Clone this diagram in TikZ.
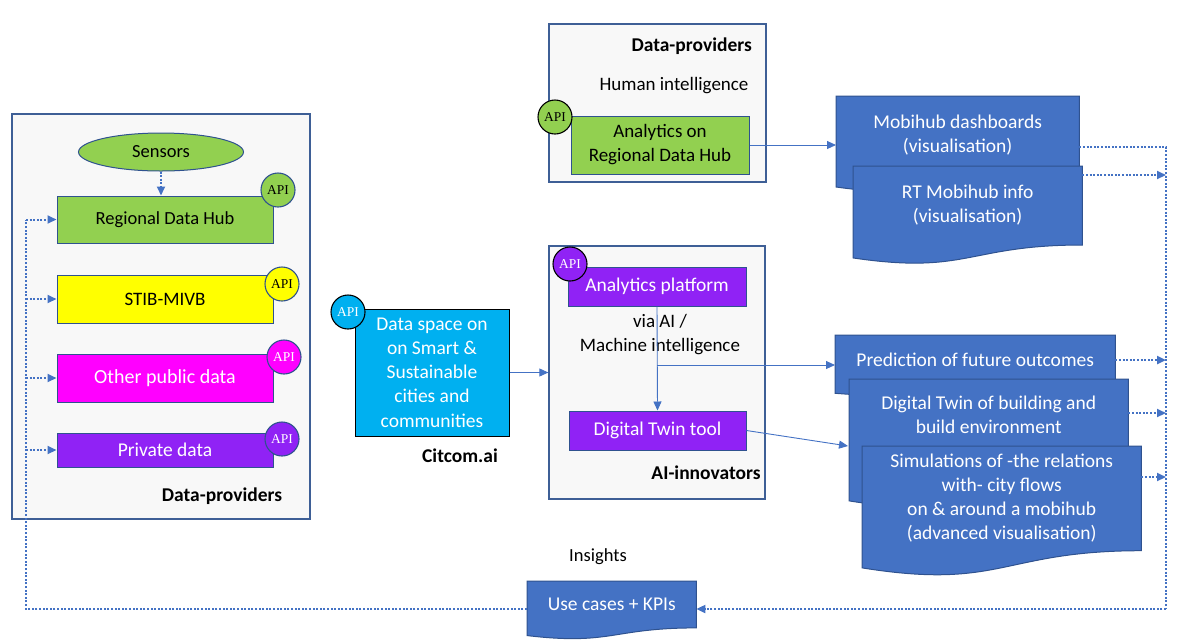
\documentclass[tikz,border=0pt]{standalone}
\usepackage{fontspec}
\setmainfont{Carlito}
\newfontfamily\apifont{Liberation Serif}
\usetikzlibrary{shapes.geometric,arrows.meta,calc}
\pgfdeclarelayer{background}
\pgfsetlayers{background,main}
\definecolor{cgreen}{HTML}{92D050}
\definecolor{cyellow}{HTML}{FFFF00}
\definecolor{cmag}{HTML}{FF00FF}
\definecolor{cpurple}{HTML}{9022F5}
\definecolor{ccyan}{HTML}{00B0F0}
\definecolor{docblue}{HTML}{4472C4}
\definecolor{docborder}{HTML}{2F528F}
\definecolor{frame}{HTML}{3E5F96}
\definecolor{panel}{HTML}{F8F8F8}
\newcommand\docpath[2]{%
  \path[docshape] (#1.north west) -- (#1.north east) -- (#1.south east)
    .. controls (#1.south) and ($(#1.south)+(0,0.305*#2)$) ..
    ($(#1.south west)+(0,0.132*#2)$) -- cycle;}
\tikzset{
  container/.style={draw=frame, line width=1.3pt, fill=panel, rectangle, inner sep=0pt},
  srcbox/.style={draw=docborder, line width=1pt, rectangle, inner sep=0pt, font=\fontsize{19}{23}\selectfont, align=center},
  apicirc/.style={circle, draw=docborder, line width=1.1pt, minimum size=34pt, inner sep=0pt, font=\apifont\fontsize{13.5}{13.5}\selectfont},
  docnode/.style={rectangle, inner sep=0pt, anchor=north west, text=white, align=center, font=\fontsize{19.5}{24}\selectfont},
  docshape/.style={fill=docblue, draw=docborder, line width=1pt},
  plain/.style={inner sep=0pt, align=center, font=\fontsize{19}{24}\selectfont},
  boldlbl/.style={inner sep=0pt, font=\bfseries\fontsize{19.5}{24}\selectfont},
  conn/.style={draw=docblue, line width=0.9pt, -{Triangle[length=9pt,width=8pt]}},
  dotline/.style={draw=docblue, line width=2pt, dash pattern=on 2pt off 1.6pt},
  dotarrow/.style={dotline, -{Triangle[length=9pt,width=8pt]}},
}
\begin{document}
\begin{tikzpicture}[x=1pt,y=-1pt]
\useasboundingbox (0,0) rectangle (1185,641);

% ---------- containers ----------
\node[container, minimum width=298pt, minimum height=405pt] (leftbox) at (161,316.5) {};
\node[container, minimum width=217pt, minimum height=158pt] (topbox) at (657.5,103) {};
\node[container, minimum width=216pt, minimum height=253pt] (aibox) at (657,372.5) {};

% ---------- left data providers ----------
\node[ellipse, draw=docborder, line width=1pt, fill=cgreen, minimum width=165pt, minimum height=38pt, inner sep=0pt, font=\fontsize{18.5}{22}\selectfont] (sensors) at (161,152) {Sensors};
\node[srcbox, fill=cgreen, minimum width=216pt, minimum height=47pt, font=\fontsize{18.5}{22}\selectfont] (rdh) at (165,219.5) {Regional Data Hub};
\node[srcbox, fill=cyellow, minimum width=216pt, minimum height=48pt] (stib) at (165,299) {STIB-MIVB};
\node[srcbox, fill=cmag, text=white, minimum width=216pt, minimum height=48pt, font=\fontsize{20}{24}\selectfont] (other) at (165,378) {Other public data};
\node[srcbox, fill=cpurple, text=white, minimum width=216pt, minimum height=34pt, font=\fontsize{19.5}{24}\selectfont] (priv) at (165,450) {Private data};
\node[apicirc, fill=cgreen] (rdhapi) at (278,190) {API};
\node[apicirc, fill=cyellow] (stibapi) at (282,284) {API};
\node[apicirc, fill=cmag, text=white] (otherapi) at (284,357) {API};
\node[apicirc, fill=cpurple, text=white] (privapi) at (282,439) {API};
\node[boldlbl] (dpleft) at (222,496) {Data-providers};

% ---------- Citcom ----------
\node[srcbox, draw=black, fill=ccyan, text=white, minimum width=154pt, minimum height=127pt, font=\fontsize{19.5}{24.2}\selectfont] (citcom) at (432,372.5) {Data space on\\on Smart \&\\Sustainable\\cities and\\communities};
\node[apicirc, draw=black, fill=ccyan, text=white] (citapi) at (348,312) {API};
\node[boldlbl] (citlbl) at (460,456) {Citcom.ai};

% ---------- top box ----------
\node[boldlbl, anchor=east] (dptop) at (752,46) {Data-providers};
\node[plain] (human) at (674,86) {Human intelligence};
\node[srcbox, fill=cgreen, minimum width=178pt, minimum height=58pt, font=\fontsize{19}{24}\selectfont] (ard) at (660,145) {Analytics on\\Regional Data Hub};
\node[apicirc, draw=black, fill=cgreen] (ardapi) at (555,117) {API};

% ---------- AI innovators ----------
\node[srcbox, fill=cpurple, text=white, minimum width=178pt, minimum height=39pt, font=\fontsize{19.5}{24}\selectfont] (ap) at (657,286.5) {Analytics platform};
\node[apicirc, draw=black, fill=cpurple, text=white] (apapi) at (570,264) {API};
\node[plain] (viaai) at (660,335) {via AI /\\Machine intelligence};
\node[srcbox, fill=cpurple, text=white, minimum width=177pt, minimum height=39pt, font=\fontsize{19.5}{24}\selectfont] (dtt) at (657.5,430.5) {Digital Twin tool};
\node[boldlbl] (ailbl) at (706,473) {AI-innovators};

% ---------- documents ----------
\node[docnode, minimum width=243pt, minimum height=77.8pt] (mdash) at (836,96) {Mobihub dashboards\\(visualisation)};
\node[docnode, minimum width=229pt, minimum height=78.6pt] (rtm) at (853,166) {RT Mobihub info\\(visualisation)};
\node[docnode, minimum width=280pt, minimum height=49.7pt] (pred) at (835,335) {Prediction of future outcomes};
\node[docnode, minimum width=279pt, minimum height=104.3pt] (dtb) at (849,379) {Digital Twin of building and\\build environment\\[10pt]\mbox{}};
\node[docnode, minimum width=279pt, minimum height=104.3pt] (sim) at (862,446) {Simulations of -the relations\\with- city flows\\on \& around a mobihub\\(advanced visualisation)};
\node[docnode, minimum width=169pt, minimum height=46.5pt] (uc) at (527,581) {Use cases + KPIs};
\node[plain, font=\fontsize{18.5}{22}\selectfont] (insights) at (598,557) {Insights};

\begin{pgfonlayer}{background}
\docpath{mdash}{97}
\docpath{rtm}{98}
\docpath{pred}{62}
\docpath{dtb}{130}
\docpath{sim}{130}
\docpath{uc}{58}
\end{pgfonlayer}

% ---------- coordinates for connector ends ----------
\coordinate (lb) at (26,609);
\coordinate (rtop) at (1166,147);
\coordinate (rbot) at (1166,609);
\coordinate (b1) at (1166,175);
\coordinate (b3) at (1166,413);
\coordinate (b4) at (1166,477);
\coordinate (ardout) at (836,145);
\coordinate (predin) at (835,365);
\coordinate (dtbin) at (848,446);

% ---------- solid connectors ----------
\draw[conn] (ard.east) -- (ardout);
\draw[conn] (citcom.east) -- (citcom.east -| aibox.west);
\draw[conn] (ap.south) -- (dtt.north);
\draw[conn] (ap.south |- predin) -- (predin);
\draw[conn] (dtt.east) -- (dtbin);

% ---------- dotted connectors ----------
\draw[dotarrow] (sensors.south) -- (sensors.south |- rdh.north);
\draw[dotline] (uc.west |- rbot) -- (lb) -- (lb |- rdh.west);
\draw[dotarrow] (lb |- rdh.west) -- (rdh.west);
\draw[dotarrow] (lb |- stib.west) -- (stib.west);
\draw[dotarrow] (lb |- other.west) -- (other.west);
\draw[dotarrow] (lb |- priv.west) -- (priv.west);
\draw[dotline] (mdash.east |- rtop) -- (rtop) -- (rbot);
\draw[dotarrow] (rbot) -- (uc.east |- rbot);
\draw[dotarrow] (rtm.east |- b1) -- (b1);
\draw[dotarrow] (pred.east) -- (pred.east -| rtop);
\draw[dotarrow] (dtb.east |- b3) -- (b3);
\draw[dotarrow] (sim.east |- b4) -- (b4);
\end{tikzpicture}
\end{document}
